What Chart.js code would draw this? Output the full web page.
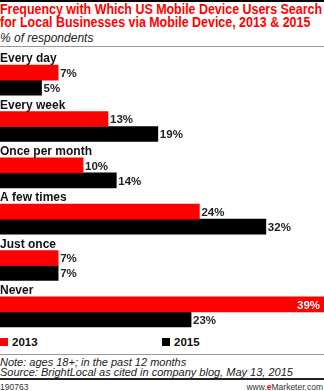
<!DOCTYPE html>
<html>
<head>
<meta charset="utf-8">
<script src="https://cdn.jsdelivr.net/npm/chart.js@4"></script>
<style>
  html, body { margin: 0; padding: 0; }
  body { width: 324px; height: 391px; position: relative; overflow: hidden; background: #fff;
         font-family: "Liberation Sans", Arial, sans-serif; }
  .topline { position: absolute; left: 0; top: 0; width: 324px; height: 2px; background: #000; }
  .title { position: absolute; left: 0; top: 3px; color: #ff0000; font-weight: bold; white-space: nowrap;
           font-size: 14px; line-height: 12.5px; transform-origin: 0 0; }
  .subtitle { position: absolute; left: 0; top: 31px; font-style: italic; font-size: 12px; color: #222; }
  .rule { position: absolute; left: 0; width: 324px; height: 1px; background: #999; }
  .chart-wrap { position: absolute; left: 0; top: 47px; width: 324px; height: 288px; }
  .legend { position: absolute; top: 336px; font-weight: bold; font-size: 11.5px; color: #111; }
  .legend span.sw { display: inline-block; width: 8px; height: 8px; margin-right: 4px; }
  .note { position: absolute; left: 0; top: 357px; font-style: italic; font-size: 11px; line-height: 10px; color: #222; white-space: nowrap; }
  .bottomline { position: absolute; left: 0; top: 378px; width: 324px; height: 2px; background: #222; }
  .id { position: absolute; left: 0; top: 382px; font-size: 8.5px; color: #333; }
  .site { position: absolute; right: 1px; top: 382px; font-size: 8.5px; color: #333; }
  .site b { color: #e00; }
</style>
</head>
<body>
<div class="topline"></div>
<div class="title" id="title">Frequency with Which US Mobile Device Users Search<br>for Local Businesses via Mobile Device, 2013 &amp; 2015</div>
<div class="subtitle">% of respondents</div>
<div class="rule" style="top:46px"></div>
<div class="chart-wrap"><canvas id="freq-chart"></canvas></div>
<div class="legend" style="left:0"><span class="sw" style="background:#ff0000"></span>2013</div>
<div class="legend" style="left:162px"><span class="sw" style="background:#000"></span>2015</div>
<div class="rule" style="top:354px"></div>
<div class="note">Note: ages 18+; in the past 12 months<br>Source: BrightLocal as cited in company blog, May 13, 2015</div>
<div class="bottomline"></div>
<div class="id">190763</div>
<div class="site">www.<b>e</b>Marketer.com</div>

<script>
const categories = ['Every day', 'Every week', 'Once per month', 'A few times', 'Just once', 'Never'];
const values2013 = [7, 13, 10, 24, 7, 39];
const values2015 = [5, 19, 14, 32, 7, 23];

// squeeze the two-line title into the page width
const titleEl = document.getElementById('title');
const titleW = titleEl.getBoundingClientRect().width;
if (titleW > 322) {
    titleEl.style.transform = 'scaleX(' + (322 / titleW) + ')';
}

// category names above each pair, value labels at the bar ends
const barLabels = {
    id: 'barLabels',
    afterDatasetsDraw(chart) {
        const ctx = chart.ctx;
        ctx.save();
        ctx.textBaseline = 'middle';

        ctx.font = 'bold 12px "Liberation Sans", Arial, sans-serif';
        chart.getDatasetMeta(0).data.forEach(function(bar, i) {
            ctx.fillStyle = '#111';
            ctx.textAlign = 'left';
            ctx.fillText(categories[i], 0, bar.y - bar.height / 2 - 6);
        });

        ctx.font = 'bold 11.5px "Liberation Sans", Arial, sans-serif';
        chart.data.datasets.forEach(function(ds, di) {
            chart.getDatasetMeta(di).data.forEach(function(bar, i) {
                const text = ds.data[i] + '%';
                const w = ctx.measureText(text).width;
                if (bar.x + 3 + w > chart.width) {
                    ctx.fillStyle = '#fff';
                    ctx.textAlign = 'right';
                    ctx.fillText(text, bar.x - 4, bar.y + 1);
                } else {
                    ctx.fillStyle = '#222';
                    ctx.textAlign = 'left';
                    ctx.fillText(text, bar.x + 2, bar.y + 1);
                }
            });
        });
        ctx.restore();
    }
};

const ctx = document.getElementById('freq-chart').getContext('2d');
new Chart(ctx, {
    type: 'bar',
    data: {
        labels: categories,
        datasets: [{
            label: '2013',
            data: values2013,
            backgroundColor: '#ff0000',
            barThickness: 15
        }, {
            label: '2015',
            data: values2015,
            backgroundColor: '#000000',
            barThickness: 15
        }]
    },
    options: {
        indexAxis: 'y',
        responsive: true,
        maintainAspectRatio: false,
        animation: false,
        layout: { padding: { top: 10, left: 0, right: 0, bottom: 0 } },
        plugins: {
            legend: { display: false },
            tooltip: { enabled: false }
        },
        scales: {
            x: { display: false, min: 0, max: 39 },
            y: { display: false }
        }
    },
    plugins: [barLabels]
});
</script>
</body>
</html>
